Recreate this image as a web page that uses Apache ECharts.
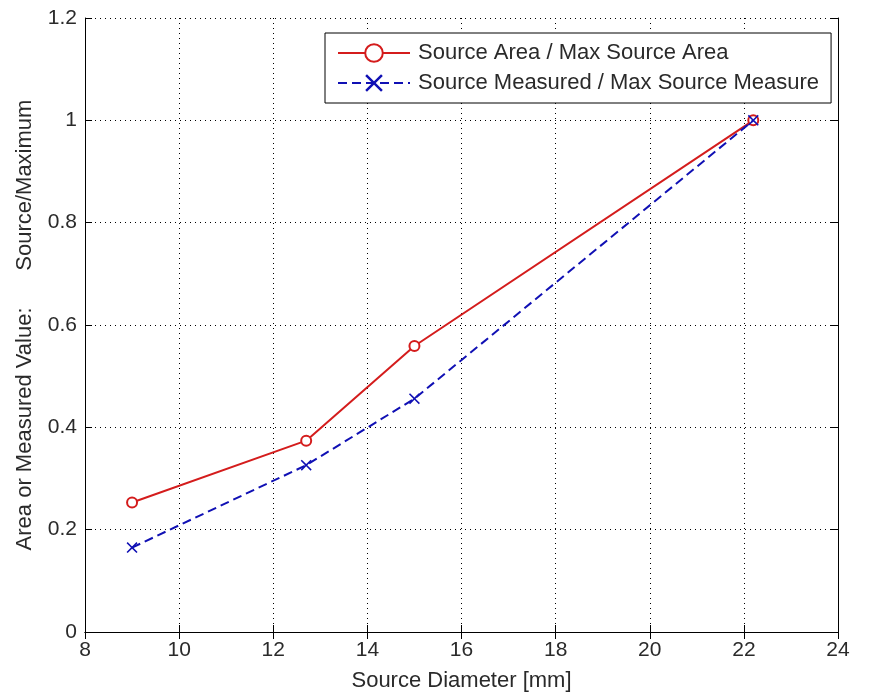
<!DOCTYPE html>
<html>
<head>
<meta charset="utf-8">
<script src="https://cdn.jsdelivr.net/npm/echarts@6/dist/echarts.min.js"></script>
<style>
  html, body { margin: 0; padding: 0; background: #fff; }
  #chart { width: 875px; height: 697px; }
</style>
</head>
<body>
<div id="chart"></div>
<script>
// source diameters [mm]
const diameters = [9, 12.7, 15, 22.2]
// ratios to max value
const areaRatio = [0.253, 0.374, 0.559, 1.0]
const measuredRatio = [0.165, 0.326, 0.456, 1.0]

const xTicks = { min: 8, max: 24, interval: 2 }
const yTicks = { min: 0, max: 1.2, interval: 0.2 }

const font = 'Liberation Sans, Arial, sans-serif'
const textColor = '#2a2a2a'
const xMarker = 'path://M0,1L1,0L5,4L9,0L10,1L6,5L10,9L9,10L5,6L1,10L0,9L4,5Z'

const chart = echarts.init(document.getElementById('chart'))

const boxAxis = {
  axisLine: { show: true, lineStyle: { color: '#000', width: 1 } },
  axisTick: { show: true, inside: true, length: 7, lineStyle: { color: '#000' } },
  splitLine: { show: false }
}

const options = {
  backgroundColor: '#fff',
  animation: false,
  textStyle: { fontFamily: font },
  grid: { left: 85, right: 37, top: 18, bottom: 64 },
  legend: {
    orient: 'vertical',
    left: 325,
    top: 33,
    padding: [9, 12, 9, 12],
    itemWidth: 72,
    itemHeight: 22,
    itemGap: 8,
    borderColor: '#000',
    borderWidth: 1,
    backgroundColor: '#fff',
    textStyle: { fontSize: 22, color: textColor, fontFamily: font, padding: [0, 0, 0, 3] },
    data: ['Source Area / Max Source Area', 'Source Measured / Max Source Measure']
  },
  xAxis: [
    {
      type: 'value',
      ...xTicks,
      ...boxAxis,
      name: 'Source Diameter [mm]',
      nameLocation: 'middle',
      nameGap: 38,
      nameTextStyle: { fontSize: 22, color: textColor, fontFamily: font },
      axisLabel: { fontSize: 21, color: textColor, margin: 8, fontFamily: font },
      splitLine: { show: true, lineStyle: { color: '#000', type: [1, 4], width: 1 } }
    },
    {
      type: 'value',
      position: 'top',
      ...xTicks,
      ...boxAxis,
      axisLabel: { show: false }
    }
  ],
  yAxis: [
    {
      type: 'value',
      ...yTicks,
      ...boxAxis,
      name: 'Area or Measured Value:      Source/Maximum',
      nameLocation: 'middle',
      nameGap: 49,
      nameTextStyle: { fontSize: 22, color: textColor, fontFamily: font },
      axisLabel: {
        fontSize: 21, color: textColor, margin: 8, fontFamily: font,
        formatter: (v) => String(parseFloat(v.toFixed(1)))
      },
      splitLine: { show: true, lineStyle: { color: '#000', type: [1, 4], width: 1 } }
    },
    {
      type: 'value',
      position: 'right',
      ...yTicks,
      ...boxAxis,
      axisLabel: { show: false }
    }
  ],
  series: [
    {
      name: 'Source Area / Max Source Area',
      type: 'line',
      data: diameters.map((d, i) => [d, areaRatio[i]]),
      symbol: 'emptyCircle',
      symbolSize: 10,
      lineStyle: { color: '#d41c1c', width: 2 },
      itemStyle: { color: '#d41c1c', borderWidth: 2 },
      z: 3
    },
    {
      name: 'Source Measured / Max Source Measure',
      type: 'line',
      data: diameters.map((d, i) => [d, measuredRatio[i]]),
      symbol: xMarker,
      symbolSize: 11,
      lineStyle: { color: '#1010b4', width: 2, type: [9, 5] },
      itemStyle: { color: '#1010b4' },
      z: 4
    }
  ]
}

chart.setOption(options)
</script>
</body>
</html>
